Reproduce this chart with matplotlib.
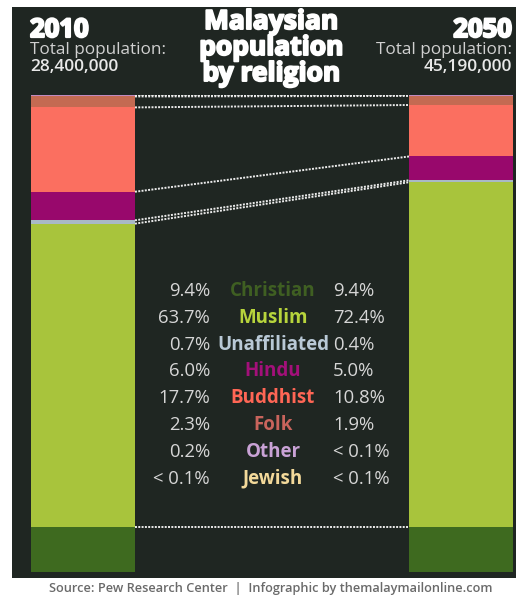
import matplotlib
matplotlib.use("Agg")
import matplotlib.pyplot as plt
from matplotlib.patches import Rectangle
import matplotlib.patheffects as pe
import numpy as np

# Religion shares (percent), stacked from the bottom of each bar upward
religions = ["Christian", "Muslim", "Unaffiliated", "Hindu",
             "Buddhist", "Folk", "Other", "Jewish"]
share_2010 = [9.4, 63.7, 0.7, 6.0, 17.7, 2.3, 0.2, 0.1]
share_2050 = [9.4, 72.4, 0.4, 5.0, 10.8, 1.9, 0.1, 0.1]
label_2010 = ["9.4%", "63.7%", "0.7%", "6.0%", "17.7%", "2.3%", "0.2%", "< 0.1%"]
label_2050 = ["9.4%", "72.4%", "0.4%", "5.0%", "10.8%", "1.9%", "< 0.1%", "< 0.1%"]
years = ["2010", "2050"]
populations = ["28,400,000", "45,190,000"]

bar_colors = ["#3e6a1f", "#a8c43c", "#a9b9c6", "#98086c",
              "#fb6f60", "#c46a52", "#c08ac0", "#f2d890"]
text_colors = ["#3f5f22", "#b7d43c", "#b9c9d6", "#a3107a",
               "#ff6655", "#c8645c", "#c9a2d6", "#f3d99a"]

W, H = 518, 597
fig = plt.figure(figsize=(W / 100, H / 100), dpi=100, facecolor="white")


def fx(x):
    return x / W


def fy(y):
    return 1 - y / H


# dark background panel
fig.patches.append(Rectangle((fx(12), fy(578)), fx(516) - fx(12), fy(7) - fy(578),
                             transform=fig.transFigure, facecolor="#1f2622",
                             edgecolor="none", zorder=-5))

# stacked bars with connecting boundary lines
ax = fig.add_axes([fx(31), fy(572), fx(513) - fx(31), fy(95) - fy(572)])
ax.set_zorder(2)
ax.set_facecolor("none")
ax.axis("off")
bar_w = 104 / 378
ax.set_xlim(-bar_w / 2, 1 + bar_w / 2)
total = max(sum(share_2010), sum(share_2050))
ax.set_ylim(0, total)

bottoms = np.zeros(2)
tops = []
for name, a, b, c in zip(religions, share_2010, share_2050, bar_colors):
    vals = np.array([a, b])
    ax.bar([0, 1], vals, bottom=bottoms, width=bar_w, color=c,
           edgecolor="none", zorder=2)
    bottoms = bottoms + vals
    tops.append(bottoms.copy())

for t in tops:
    ax.plot([bar_w / 2, 1 - bar_w / 2], [t[0], t[1]], color="#ececec",
            lw=1.4, linestyle=(0, (1, 0.7)), zorder=3)

# header
font = "Open Sans"
title_lines = ["Malaysian", "population", "by religion"]
for line, base in zip(title_lines, [29, 55, 81]):
    fig.text(fx(271), fy(base), line, ha="center", va="baseline",
             color="white", fontsize=19, fontweight="bold", family=font,
             path_effects=[pe.withStroke(linewidth=1.4, foreground="white")])

for year, pop, x, ha in zip(years, populations, [30, 512], ["left", "right"]):
    fig.text(fx(x), fy(37), year, ha=ha, va="baseline", color="white",
             fontsize=18.5, fontweight="bold", family=font,
             path_effects=[pe.withStroke(linewidth=1.6, foreground="white")])
    fig.text(fx(x), fy(54), "Total population:", ha=ha, va="baseline",
             color="#d0d0d0", fontsize=12.3, family=font)
    fig.text(fx(x), fy(71), pop, ha=ha, va="baseline", color="#e8e8e8",
             fontsize=12.5, fontweight="semibold", family=font)

# value table
for i, name in enumerate(religions):
    base = fy(296 + 26.8 * i)
    fig.text(fx(210), base, label_2010[i], ha="right", va="baseline",
             color="#d6d6d6", fontsize=13.3, family=font)
    fig.text(fx(273), base, name, ha="center", va="baseline",
             color=text_colors[i], fontsize=13.5, fontweight="bold", family=font)
    fig.text(fx(333), base, label_2050[i], ha="left", va="baseline",
             color="#d6d6d6", fontsize=13.3, family=font)

fig.text(fx(271), fy(592),
         "Source: Pew Research Center  |  Infographic by themalaymailonline.com",
         ha="center", va="baseline", color="#6a6a6a", fontsize=9.2,
         fontweight="semibold", family=font)

fig.savefig("out.png", dpi=100, facecolor="white")
